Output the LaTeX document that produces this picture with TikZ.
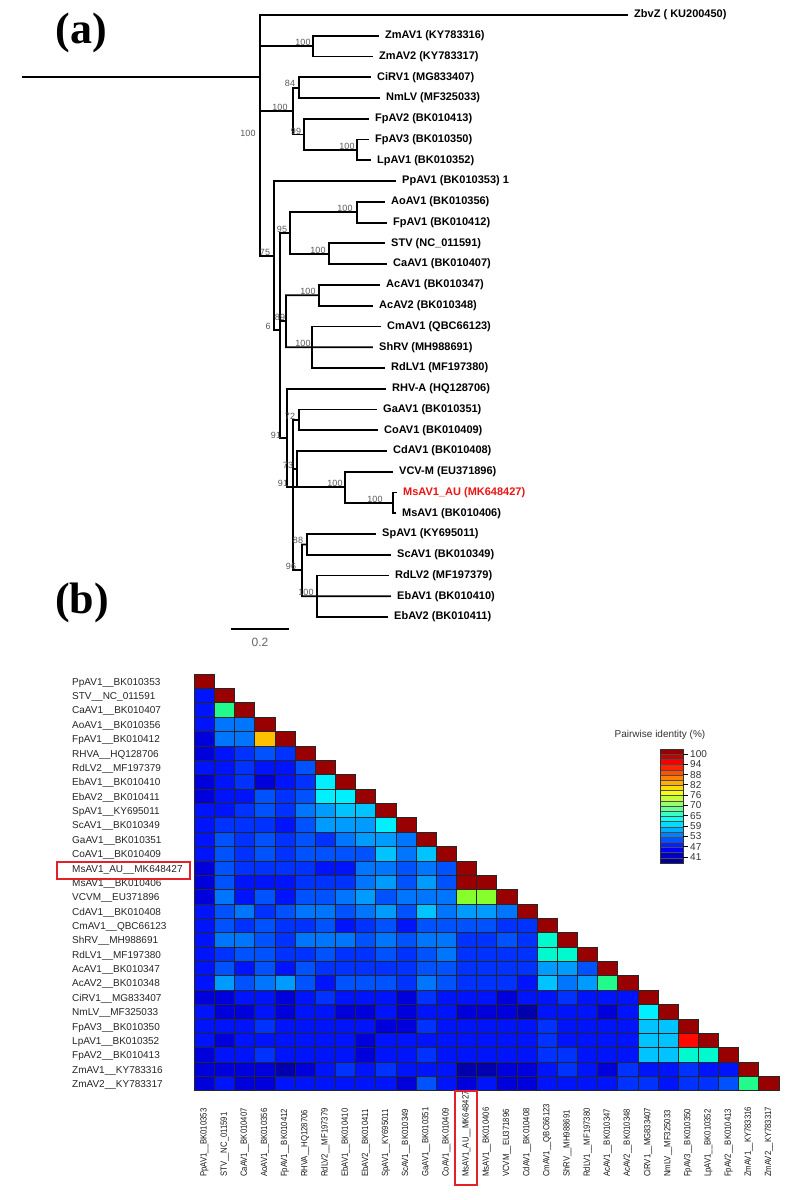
\documentclass[tikz,border=0pt]{standalone}
\usepackage{fontspec}
\setmainfont{Liberation Sans}
\newfontfamily\panelfont{Liberation Serif}
\usepackage{graphicx}
\usetikzlibrary{positioning,calc}
\definecolor{markred}{RGB}{228,32,40}
\definecolor{tipred}{RGB}{235,20,20}
% heatmap cell palette (jet-like)
\definecolor{hmD}{RGB}{153,0,0}
\definecolor{hmR}{RGB}{255,10,0}
\definecolor{hmO}{RGB}{255,192,0}
\definecolor{hmY}{RGB}{135,255,45}
\definecolor{hmG}{RGB}{35,250,140}
\definecolor{hmT}{RGB}{0,250,205}
\definecolor{hmC}{RGB}{0,240,255}
\definecolor{hm8}{RGB}{0,195,255}
\definecolor{hm7}{RGB}{0,155,255}
\definecolor{hm6}{RGB}{0,118,255}
\definecolor{hm5}{RGB}{0,82,255}
\definecolor{hm4}{RGB}{0,50,255}
\definecolor{hm3}{RGB}{0,20,252}
\definecolor{hm2}{RGB}{0,0,220}
\definecolor{hm1}{RGB}{0,0,175}
\tikzset{
  branch/.style={line width=1.8pt, draw=black, line cap=rect},
  tiplab/.style={anchor=west, inner sep=0pt, font=\bfseries\fontsize{11}{13}\selectfont},
  bootlab/.style={inner sep=0pt, text=black!65, font=\fontsize{9}{10}\selectfont},
  rowlab/.style={anchor=west, inner sep=0pt, text=black!85, font=\fontsize{10}{12}\selectfont},
  collab/.style={anchor=west, rotate=90, inner sep=0pt, text=black!90, font=\fontsize{9}{11}\selectfont},
  cellbox/.style={draw=black!85, line width=0.6pt},
  hilite/.style={draw=markred, line width=2.6pt},
  panellab/.style={font=\panelfont\bfseries\fontsize{44}{48}\selectfont},
  keylab/.style={anchor=west, inner sep=0pt, text=black!80, font=\fontsize{10}{12}\selectfont},
}
\newcommand\hmnames{PpAV1\_\_BK010353, STV\_\_NC\_011591, CaAV1\_\_BK010407, AoAV1\_\_BK010356,
  FpAV1\_\_BK010412, RHVA\_\_HQ128706, RdLV2\_\_MF197379, EbAV1\_\_BK010410, EbAV2\_\_BK010411,
  SpAV1\_\_KY695011, ScAV1\_\_BK010349, GaAV1\_\_BK010351, CoAV1\_\_BK010409, MsAV1\_AU\_\_MK648427,
  MsAV1\_\_BK010406, VCVM\_\_EU371896, CdAV1\_\_BK010408, CmAV1\_\_QBC66123, ShRV\_\_MH988691,
  RdLV1\_\_MF197380, AcAV1\_\_BK010347, AcAV2\_\_BK010348, CiRV1\_\_MG833407, NmLV\_\_MF325033,
  FpAV3\_\_BK010350, LpAV1\_\_BK010352, FpAV2\_\_BK010413, ZmAV1\_\_KY783316, ZmAV2\_\_KY783317}

\begin{document}
\begin{tikzpicture}[x=1pt, y=-1pt]
\useasboundingbox (0,0) rectangle (795,1200);
\fill[white] (0,0) rectangle (795,1200);

% ---------- panel (a): tree ----------
\node[panellab] (pa) at (81,33) {(a)};
\foreach \lab/\tx/\tc [count=\k from 0] in {
  ZbvZ ( KU200450)/634/black, ZmAV1 (KY783316)/385/black, ZmAV2 (KY783317)/379/black,
  CiRV1 (MG833407)/377/black, NmLV (MF325033)/386/black, FpAV2 (BK010413)/375/black,
  FpAV3 (BK010350)/375/black, LpAV1 (BK010352)/377/black, PpAV1 (BK010353) 1/402/black,
  AoAV1 (BK010356)/391/black, FpAV1 (BK010412)/393/black, STV (NC\_011591)/391/black,
  CaAV1 (BK010407)/393/black, AcAV1 (BK010347)/386/black, AcAV2 (BK010348)/379/black,
  CmAV1 (QBC66123)/387/black, ShRV (MH988691)/379/black, RdLV1 (MF197380)/391/black,
  RHV-A (HQ128706)/392/black, GaAV1 (BK010351)/383/black, CoAV1 (BK010409)/384/black,
  CdAV1 (BK010408)/393/black, VCV-M (EU371896)/399/black, MsAV1\_AU (MK648427)/403/tipred,
  MsAV1 (BK010406)/402/black, SpAV1 (KY695011)/382/black, ScAV1 (BK010349)/397/black,
  RdLV2 (MF197379)/395/black, EbAV1 (BK010410)/397/black, EbAV2 (BK010411)/394/black}{
  \node[tiplab, text=\tc] (t\k) at (\tx,{15+20.76*\k}) {\lab};
  \coordinate (e\k) at ([xshift=-7pt]t\k.west);
}
% top clades
\draw[branch] (23,76.7) -- (260,76.7);
\draw[branch] (e0) -| (260,256);
\draw[branch] (260,46.2) -- (313,46.2);
\draw[branch] (e1) -| (313,46.2) |- (e2);
\draw[branch] (260,111) -- (293,111);
\draw[branch] (293,87.7) -- (293,134.4);
\draw[branch] (293,87.7) -- (299,87.7);
\draw[branch] (e3) -| (299,87.7) |- (e4);
\draw[branch] (293,134.4) -- (304,134.4);
\draw[branch] (e5) -| (304,150) -- (357,150);
\draw[branch] (e6) -| (357,150) |- (e7);
% lower clades
\draw[branch] (260,256) -- (274,256);
\draw[branch] (e8) -| (274,330) -- (280,330);
\draw[branch] (280,233) -- (280,438);
\draw[branch] (280,233) -- (290,233);
\draw[branch] (357,212.2) -| (290,253.8) -- (329,253.8);
\draw[branch] (e9) -| (357,212.2) |- (e10);
\draw[branch] (e11) -| (329,253.8) |- (e12);
\draw[branch] (280,321.2) -- (286,321.2);
\draw[branch] (319,295.3) -| (286,347.2) -- (e16);
\draw[branch] (e13) -| (319,295.3) |- (e14);
\draw[branch] (e15) -| (312,347.2) |- (e17);
\draw[branch] (280,438) -- (287,438);
\draw[branch] (e18) -| (287,487.3) -- (345,487.3);
\draw[branch] (293,419.8) -- (293,570.3);
\draw[branch] (293,419.8) -- (299,419.8);
\draw[branch] (e19) -| (299,419.8) |- (e20);
\draw[branch] (293,469) -- (297,469);
\draw[branch] (e21) -| (297,487.3);
\draw[branch] (e22) -| (345,487.3) |- (393,502.9);
\draw[branch] (e23) -| (393,502.9) |- (e24);
\draw[branch] (293,570.3) -- (302,570.3);
\draw[branch] (307,544.4) -| (302,596.3) -- (e28);
\draw[branch] (e25) -| (307,544.4) |- (e26);
\draw[branch] (e27) -| (317,596.3) |- (e29);
% bootstrap values
\foreach \bv/\bx/\by [count=\n] in {100/303/42, 84/290/83, 100/280/107, 99/296/131, 100/248/133,
  100/347/146, 75/265/252, 95/282/229, 100/345/208, 100/318/250, 100/308/291, 89/280/317,
  6/268/326, 100/303/343, 91/276/435, 72/290/416, 73/288/465, 91/283/483, 100/335/483,
  100/375/499, 88/298/540, 96/291/566, 100/306/592}{
  \node[bootlab] (bs\n) at (\bx,\by) {\bv};
}
% scale bar
\coordinate (sbl) at (232,629);
\coordinate (sbr) at (288,629);
\draw[branch] (sbl) -- (sbr);
\node[text=black!60, font=\fontsize{12}{14}\selectfont] (sb) at (260,642) {0.2};

% ---------- panel (b): identity heatmap ----------
\node[panellab] (pb) at (82,603) {(b)};
\foreach \row [count=\i from 0] in {
  {D},
  {3,D},
  {3,G,D},
  {3,6,6,D},
  {2,6,6,O,D},
  {2,3,4,5,4,D},
  {3,3,4,3,3,5,D},
  {2,3,4,2,3,4,C,D},
  {2,3,3,5,4,5,C,C,D},
  {3,3,4,5,4,6,7,8,8,D},
  {3,4,4,4,3,5,7,7,7,C,D},
  {3,5,4,5,4,5,4,6,7,7,6,D},
  {3,5,4,5,4,5,5,5,5,8,6,8,D},
  {2,5,4,4,4,4,3,3,6,6,5,6,5,D},
  {2,5,3,3,3,4,4,4,6,7,5,7,5,D,D},
  {2,6,3,5,3,5,5,6,7,5,6,6,6,Y,Y,D},
  {3,5,6,4,5,6,6,5,6,7,5,8,6,7,7,6,D},
  {3,5,4,5,4,4,5,3,4,5,3,5,5,5,5,4,4,D},
  {3,6,6,5,4,6,6,6,5,6,5,6,6,4,4,5,4,T,D},
  {3,4,5,5,4,4,5,4,4,5,4,5,6,4,4,4,4,T,T,D},
  {3,5,3,5,3,5,4,4,4,4,4,5,5,4,4,4,4,7,7,5,D},
  {3,7,5,6,7,5,3,5,5,5,4,6,5,4,4,4,3,8,6,7,G,D},
  {2,2,3,3,2,3,4,3,3,3,2,4,3,3,3,2,3,3,4,3,3,3,D},
  {3,2,2,3,2,3,3,2,2,3,2,3,3,2,2,2,1,3,3,3,2,3,C,D},
  {3,3,3,4,3,3,3,3,3,2,2,4,3,3,3,3,3,4,3,3,3,3,8,8,D},
  {3,2,3,3,3,3,3,3,2,3,3,3,3,3,3,3,3,4,3,3,3,3,8,8,R,D},
  {2,3,3,4,3,3,3,3,2,3,3,4,3,3,3,3,3,4,4,3,3,3,8,8,T,T,D},
  {2,2,2,2,1,2,3,4,3,4,3,3,3,1,1,2,2,3,4,3,2,4,3,3,4,3,3,D},
  {2,3,2,2,3,3,3,3,3,3,2,5,3,2,3,2,2,3,3,3,3,4,4,3,4,4,5,G,D}}{
  \foreach \c [count=\j from 0] in \row {
    \draw[cellbox, fill=hm\c] ({194.3+\j*20.16},{674+\i*14.37}) rectangle ++(20.16,14.37);
  }
}
% row and column names
\foreach \lab [count=\i from 0] in \hmnames {
  \node[rowlab] (r\i) at (72,{674+(\i+0.5)*14.37+1.5}) {\lab};
  \node[collab] (c\i) at ({194.3+(\i+0.5)*20.16},1177) {\scalebox{0.86}[1]{\lab}};
}
% highlight of the new isolate
\draw[hilite] (57,862) rectangle (190,879);
\draw[hilite] (455,1091) rectangle (477,1185);

% ---------- colour key ----------
\node[text=black!80, font=\fontsize{10}{12}\selectfont] (keyt) at (660,735) {Pairwise identity (\%)};
\foreach \k in {0,...,21}{
  \pgfmathsetmacro\tval{1-(\k+0.5)/22}
  \pgfmathsetmacro\jr{max(0,min(1,1.5-abs(4*\tval-3)))}
  \pgfmathsetmacro\jg{max(0,min(1,1.5-abs(4*\tval-2)))}
  \pgfmathsetmacro\jb{max(0,min(1,1.5-abs(4*\tval-1)))}
  \definecolor{bandc}{rgb}{\jr,\jg,\jb}
  \draw[fill=bandc, draw=black!70, line width=0.4pt] (660,{749+\k*5.18}) rectangle ++(23,5.18);
}
\draw[black!80, line width=0.8pt] (660,749) rectangle (683,863);
\foreach \v [count=\k from 0] in {100,94,88,82,76,70,65,59,53,47,41}{
  \draw[black, line width=1pt] (683,{754+\k*10.3}) -- ++(5,0);
  \node[keylab] (k\k) at (690,{754+\k*10.3}) {\v};
}
\end{tikzpicture}
\end{document}
